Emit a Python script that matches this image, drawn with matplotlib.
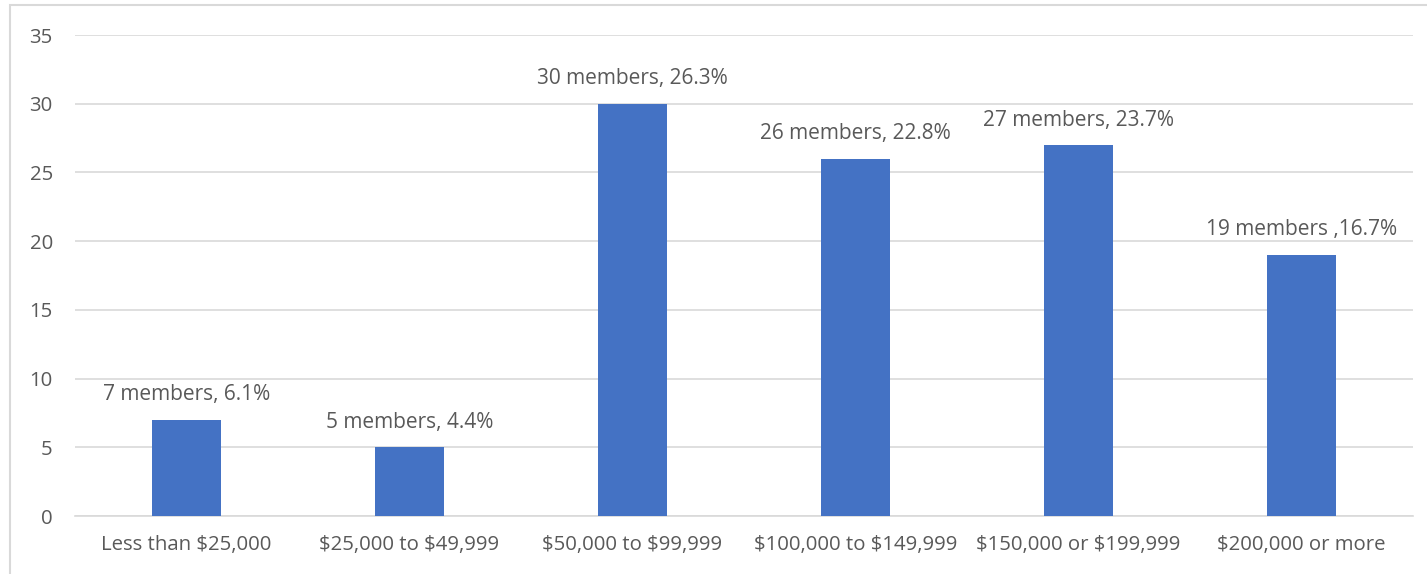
import matplotlib.pyplot as plt
from matplotlib.patches import Rectangle

categories = ['Less than $25,000', '$25,000 to $49,999', '$50,000 to $99,999',
              '$100,000 to $149,999', '$150,000 or $199,999', '$200,000 or more']
members = [7, 5, 30, 26, 27, 19]
labels = ['7 members, 6.1%', '5 members, 4.4%', '30 members, 26.3%',
          '26 members, 22.8%', '27 members, 23.7%', '19 members ,16.7%']
yticks = [0, 5, 10, 15, 20, 25, 30, 35]

plt.rcParams['font.family'] = ['Open Sans', 'DejaVu Sans']
plt.rcParams['text.parse_math'] = False  # dollar signs are literal
txt = '#595959'

fig = plt.figure(figsize=(14.27, 5.74), dpi=100)
# outer chart border (top and left visible in the crop)
fig.patches.append(Rectangle((10 / 1427, -0.1), 1.2, 1.1 - 5 / 574, transform=fig.transFigure,
                             fill=False, edgecolor='#d9d9d9', linewidth=1.5))

ax = fig.add_axes([75 / 1427, 1 - 516 / 574, (1413 - 75) / 1427, (516 - 35) / 574])
x = range(len(categories))
ax.bar(x, members, width=0.31, color='#4472c4', zorder=3)
for i, (v, lab) in enumerate(zip(members, labels)):
    ax.text(i, v + 1.05, lab, ha='center', va='bottom', fontsize=15, color=txt)

ax.set_xlim(-0.5, len(categories) - 0.5)
ax.set_ylim(0, 35)
ax.set_yticks(yticks)
ax.set_xticks(list(x))
ax.set_xticklabels(categories)
ax.tick_params(axis='both', length=0, labelsize=14.7, labelcolor=txt)
ax.tick_params(axis='y', pad=16)
ax.tick_params(axis='x', pad=14)
ax.grid(axis='y', color='#d9d9d9', linewidth=1.2, zorder=0)
for s in ['top', 'right', 'left']:
    ax.spines[s].set_visible(False)
ax.spines['bottom'].set_color('#d9d9d9')
ax.spines['bottom'].set_linewidth(1.2)

fig.savefig('out.png', dpi=100)
